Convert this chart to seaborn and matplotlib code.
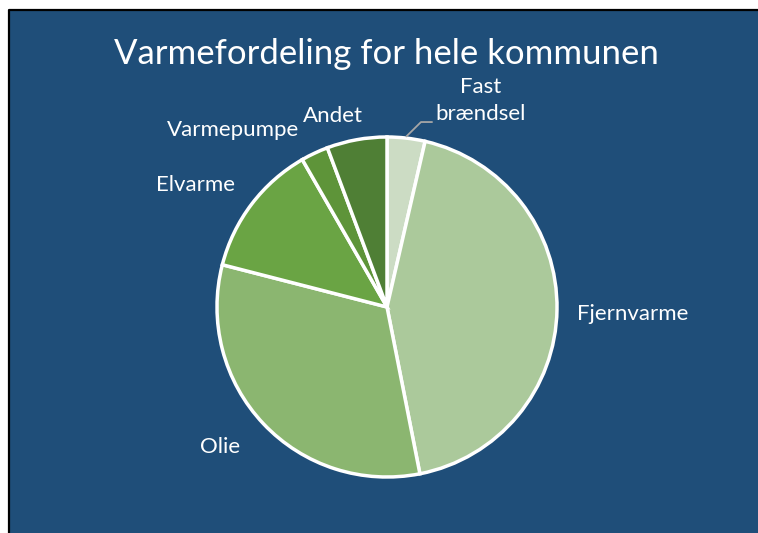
import numpy as np
import matplotlib
matplotlib.use("Agg")
import matplotlib.pyplot as plt
from matplotlib.patches import Rectangle
from matplotlib.lines import Line2D
import seaborn as sns

# andele i procent, med uret fra toppen
kategorier = ["Fast\nbrændsel", "Fjernvarme", "Olie", "Elvarme", "Varmepumpe", "Andet"]
andele = [3.6, 43.3, 32.1, 12.7, 2.6, 5.7]
farver = ["#CCDCC4", "#ABC99B", "#8BB670", "#6AA444", "#5E9439", "#4F7F35"]

sns.set_theme(style="white")
plt.rcParams["font.family"] = ["Lato", "DejaVu Sans"]

W, H = 758, 533
fig = plt.figure(figsize=(W / 100, H / 100), dpi=100)
fig.patch.set_facecolor("#1F4E79")
fig.patch.set_edgecolor("#1F4E79")

# hvid margen og sort kant øverst og til venstre
x0, y1 = 9 / W, 1 - 10 / H
fig.patches.append(Rectangle((0, 0), x0, 1, transform=fig.transFigure,
                             facecolor="white", edgecolor="none", zorder=-5))
fig.patches.append(Rectangle((0, y1), 1, 1 - y1, transform=fig.transFigure,
                             facecolor="white", edgecolor="none", zorder=-5))
fig.lines.append(Line2D([x0, x0, 1.01], [-0.01, y1, y1], transform=fig.transFigure,
                        color="black", linewidth=1.6, zorder=-4))

ax = fig.add_axes([0, 0, 1, 1])
ax.set_facecolor("none")
ax.set_zorder(5)

wedges, _ = ax.pie(andele, colors=farver, startangle=90, counterclock=False,
                   wedgeprops=dict(edgecolor="white", linewidth=2.5))

# 1 enhed = 170 px, centrum i (387, 307)
r = 170
cx, cy = 387, H - 307
ax.set_xlim(-cx / r, (W - cx) / r)
ax.set_ylim(-cy / r, (H - cy) / r)
ax.set_aspect("auto")
ax.axis("off")

label_pos = [(0.55, 1.215), (1.447, -0.041), (-0.982, -0.824),
             (-1.124, 0.718), (-0.906, 1.041), (-0.318, 1.124)]
for navn, (x, y) in zip(kategorier, label_pos):
    ax.text(x, y, navn, color="white", fontsize=16, ha="center", va="center",
            linespacing=1.45)

# ledelinje til Fast brændsel
w0 = wedges[0]
mid = np.deg2rad((w0.theta1 + w0.theta2) / 2)
ax.plot([np.cos(mid) * 1.01, 0.2, 0.265], [np.sin(mid) * 1.01, 1.088, 1.088],
        color="#A6A6A6", linewidth=1.3)

fig.text(386.5 / W, 1 - 54 / H, "Varmefordeling for hele kommunen", color="white",
         fontsize=25, ha="center", va="center", zorder=10)

fig.savefig("out.png", dpi=100, facecolor="#1F4E79", edgecolor="#1F4E79")
